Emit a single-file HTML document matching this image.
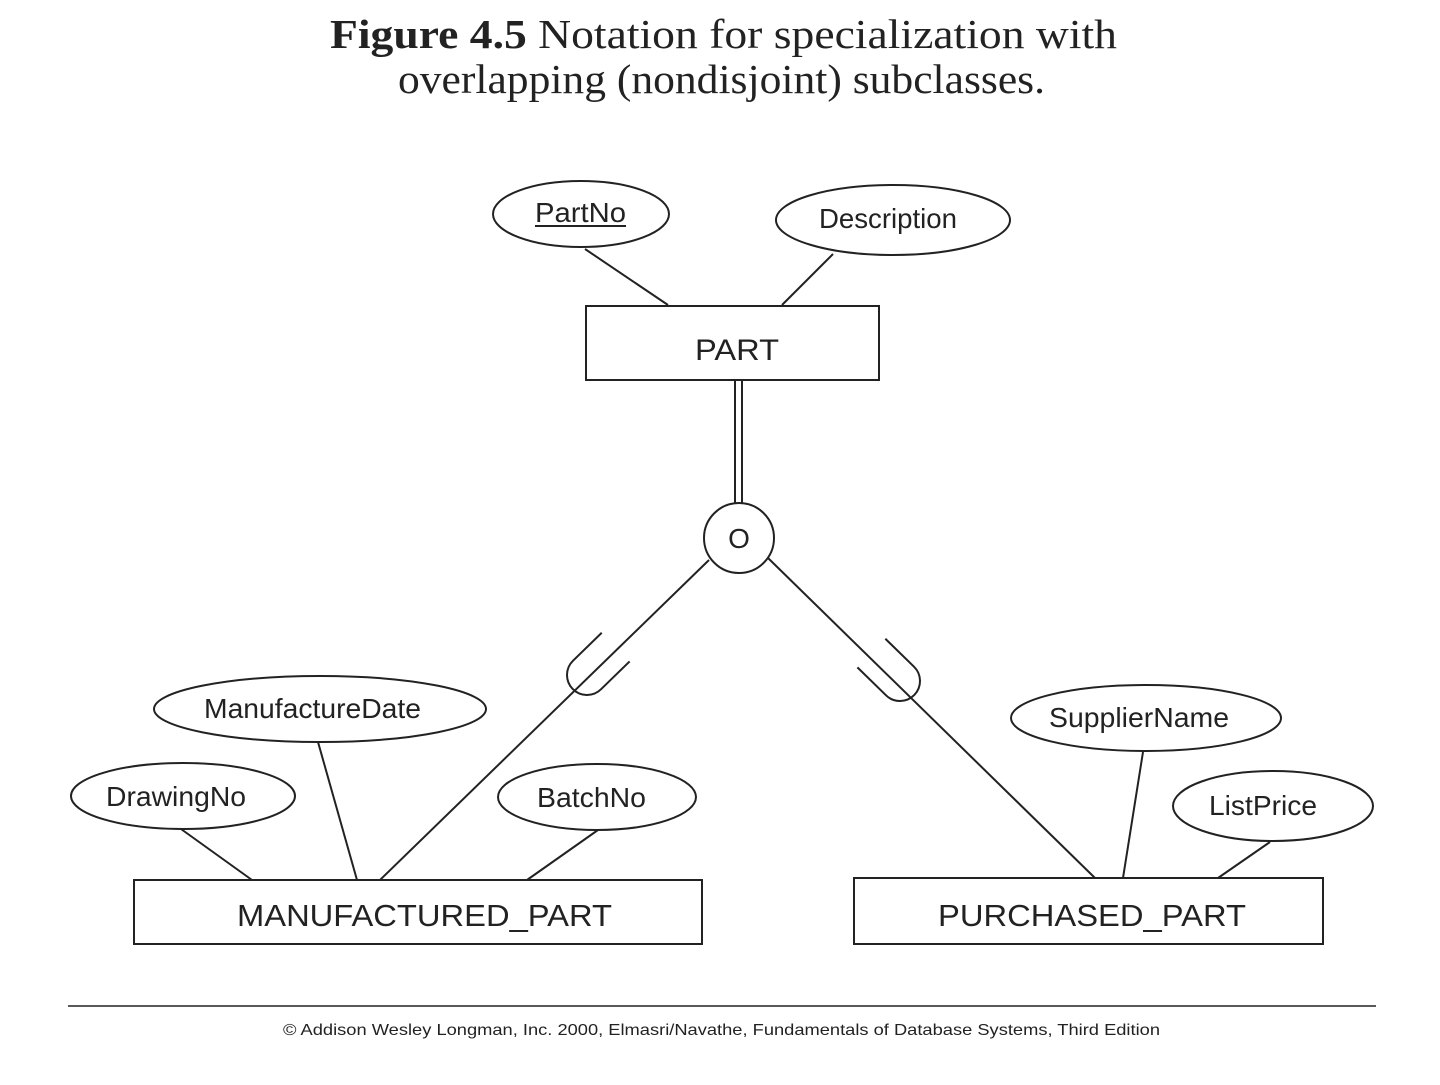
<!DOCTYPE html>
<html><head><style>body{margin:0;background:#fff}</style></head><body>
<svg width="1440" height="1080" xmlns="http://www.w3.org/2000/svg">
<g font-family="Liberation Serif, serif" font-size="41" fill="#222">
<text x="330" y="48" textLength="787" lengthAdjust="spacingAndGlyphs"><tspan font-weight="bold">Figure 4.5</tspan>   Notation for specialization with</text>
<text x="398" y="93" textLength="647" lengthAdjust="spacingAndGlyphs">overlapping (nondisjoint) subclasses.</text>
</g>
<g stroke="#222" stroke-width="2" fill="none">
<ellipse cx="581" cy="214" rx="88" ry="33"/>
<ellipse cx="893" cy="220" rx="117" ry="35"/>
<rect x="586" y="306" width="293" height="74"/>
<ellipse cx="320" cy="709" rx="166" ry="33"/>
<ellipse cx="183" cy="796" rx="112" ry="33"/>
<ellipse cx="597" cy="797" rx="99" ry="33"/>
<ellipse cx="1146" cy="718" rx="135" ry="33"/>
<ellipse cx="1273" cy="806" rx="100" ry="35"/>
<rect x="134" y="880" width="568" height="64"/>
<rect x="854" y="878" width="469" height="66"/>
<line x1="585" y1="249" x2="668" y2="305"/>
<line x1="833" y1="254" x2="782" y2="305"/>
<line x1="735" y1="380" x2="735" y2="504"/>
<line x1="742" y1="380" x2="742" y2="504"/>
<circle cx="739" cy="538" r="35"/>
<line x1="709" y1="560" x2="380" y2="880"/>
<line x1="768" y1="558" x2="1095" y2="878"/>
<path transform="translate(587,675) rotate(45.8)" d="M -20 -40 L -20 0 A 20 20 0 0 0 20 0 L 20 -40"/>
<path transform="translate(900,681) rotate(-45.7)" d="M -20 -40 L -20 0 A 20 20 0 0 0 20 0 L 20 -40"/>
<line x1="318" y1="742" x2="357" y2="880"/>
<line x1="181" y1="829" x2="252" y2="880"/>
<line x1="598" y1="830" x2="527" y2="880"/>
<line x1="1143" y1="752" x2="1123" y2="878"/>
<line x1="1270" y1="842" x2="1218" y2="878"/>
<line x1="68" y1="1006" x2="1376" y2="1006" stroke-width="1.5"/>
</g>
<g font-family="Liberation Sans, sans-serif" font-size="28" fill="#222" lengthAdjust="spacingAndGlyphs">
<text x="535" y="222" textLength="91" lengthAdjust="spacingAndGlyphs">PartNo</text>
<line x1="535" y1="226" x2="626" y2="226" stroke="#222" stroke-width="2"/>
<text x="819" y="228" textLength="138" lengthAdjust="spacingAndGlyphs">Description</text>
<text x="695" y="360" font-size="30" textLength="84" lengthAdjust="spacingAndGlyphs">PART</text>
<text x="739" y="548" text-anchor="middle">O</text>
<text x="204" y="718" textLength="217" lengthAdjust="spacingAndGlyphs">ManufactureDate</text>
<text x="106" y="806" textLength="140" lengthAdjust="spacingAndGlyphs">DrawingNo</text>
<text x="537" y="807" textLength="109" lengthAdjust="spacingAndGlyphs">BatchNo</text>
<text x="1049" y="727" textLength="180" lengthAdjust="spacingAndGlyphs">SupplierName</text>
<text x="1209" y="815" textLength="108" lengthAdjust="spacingAndGlyphs">ListPrice</text>
<text x="237" y="926" font-size="31" textLength="375" lengthAdjust="spacingAndGlyphs">MANUFACTURED_PART</text>
<text x="938" y="926" font-size="31" textLength="308" lengthAdjust="spacingAndGlyphs">PURCHASED_PART</text>
<text x="283" y="1035" font-size="16" textLength="877" lengthAdjust="spacingAndGlyphs">© Addison Wesley Longman, Inc. 2000, Elmasri/Navathe, Fundamentals of Database Systems, Third Edition</text>
</g>
</svg>
</body></html>
